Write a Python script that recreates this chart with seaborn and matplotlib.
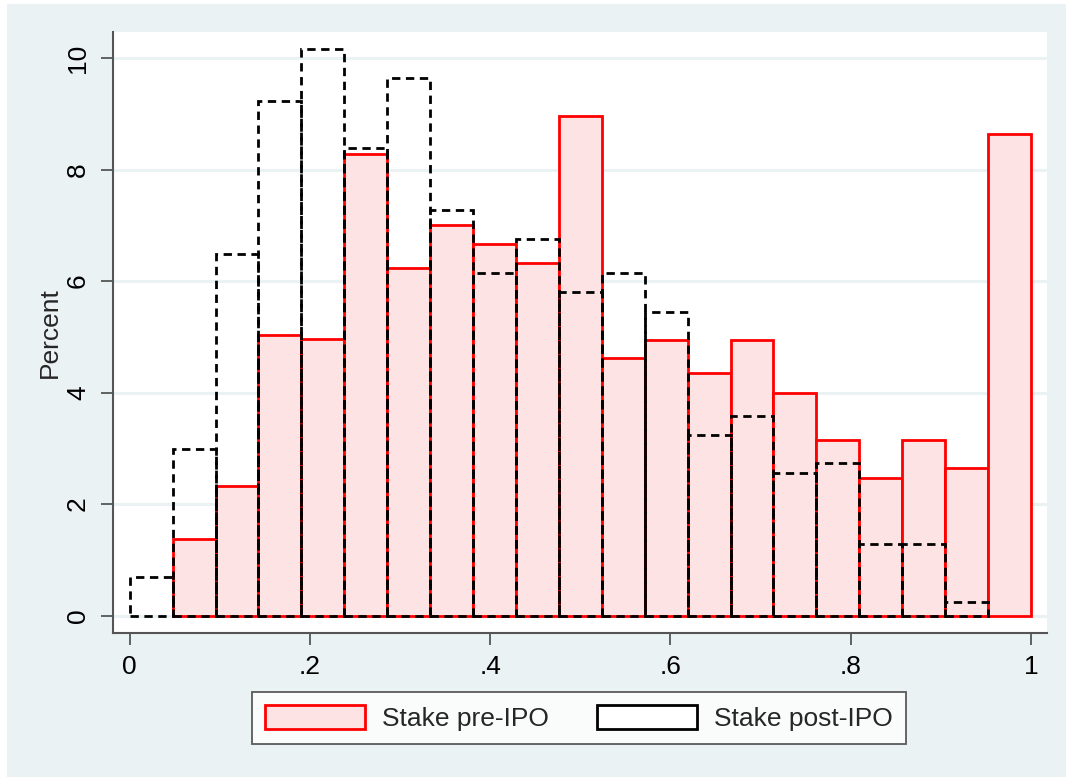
import numpy as np
import pandas as pd
import matplotlib
matplotlib.use("Agg")
import matplotlib.pyplot as plt
from matplotlib.patches import Patch, Rectangle
import seaborn as sns

# percent of firms per bin (21 bins on 0..1)
pre_ipo_pct = [0.0, 1.37, 2.32, 5.03, 4.96, 8.28, 6.24, 7.00, 6.66, 6.32, 8.97,
               4.62, 4.95, 4.35, 4.95, 4.00, 3.15, 2.47, 3.15, 2.65, 8.64]
post_ipo_pct = [0.69, 2.99, 6.48, 9.23, 10.17, 8.38, 9.65, 7.28, 6.14, 6.75, 5.80,
                6.14, 5.45, 3.24, 3.58, 2.56, 2.74, 1.29, 1.29, 0.25, 0.0]
x_ticks = [0, 0.2, 0.4, 0.6, 0.8, 1]
x_ticklabels = ["0", ".2", ".4", ".6", ".8", "1"]
y_ticks = [0, 2, 4, 6, 8, 10]

edges = np.linspace(0, 1, len(pre_ipo_pct) + 1).tolist()
mids = [(a + b) / 2 for a, b in zip(edges[:-1], edges[1:])]
df = pd.DataFrame({"stake": mids, "pre": pre_ipo_pct, "post": post_ipo_pct})

sns.set_theme(style="white")
plt.rcParams["font.family"] = ["Liberation Sans", "DejaVu Sans"]

bg = "#EAF2F3"
axis_col = "#555555"

fig = plt.figure(figsize=(10.66, 7.78), dpi=100, facecolor="white")
fig.add_artist(Rectangle((7 / 1066, 1 / 778), 1 - 7 / 1066, 1 - 5 / 778,
                         transform=fig.transFigure, facecolor=bg,
                         edgecolor="none", zorder=-10))
ax = fig.add_axes([113 / 1066, 1 - 633 / 778, (1047 - 113) / 1066, (633 - 32) / 778])
ax.set_facecolor("white")

# empty bins are not drawn in the original (first bin pre, last bin post)
sns.histplot(data=df[df["pre"] > 0], x="stake", weights="pre", bins=edges[1:], ax=ax,
             color="#FDE3E3", edgecolor="#FF0000", linewidth=2, alpha=1, zorder=2)
sns.histplot(data=df[df["post"] > 0], x="stake", weights="post", bins=edges[:-1], ax=ax,
             fill=False, color="black", linewidth=2, linestyle=(0, (3, 2)), zorder=3)

ax.set_xlim(-0.0185, 1.0178)
ax.set_ylim(-0.314, 10.47)
ax.set_xticks(x_ticks)
ax.set_xticklabels(x_ticklabels)
ax.set_yticks(y_ticks)
ax.set_xlabel("")
ax.set_ylabel("Percent", fontsize=19, labelpad=3)

ax.set_axisbelow(True)
ax.yaxis.grid(True, color=bg, linewidth=2.2)
ax.xaxis.grid(False)

for side in ["top", "right"]:
    ax.spines[side].set_visible(False)
for side in ["left", "bottom"]:
    ax.spines[side].set_color(axis_col)
    ax.spines[side].set_linewidth(1.5)

ax.tick_params(axis="both", which="major", direction="out", length=8.5, width=1.3,
               color=axis_col, labelsize=19, labelcolor="black", bottom=True, left=True)
ax.tick_params(axis="x", pad=7)
ax.tick_params(axis="y", pad=8, labelrotation=90)
for lab in ax.get_yticklabels():
    lab.set_va("center")

handles = [Patch(facecolor="#FDE3E3", edgecolor="#FF0000", linewidth=2),
           Patch(facecolor="white", edgecolor="black", linewidth=2)]
leg = fig.legend(handles, ["Stake pre-IPO", "Stake post-IPO"], ncol=2,
                 loc="center", bbox_to_anchor=(579 / 1066, 60 / 778),
                 fontsize=19, frameon=True, fancybox=False,
                 handlelength=3.8, handleheight=1.0, handletextpad=0.65,
                 columnspacing=1.8, borderpad=0.5)
leg.get_frame().set_edgecolor("#333333")
leg.get_frame().set_linewidth(1.3)
leg.get_frame().set_facecolor("white")

fig.savefig("out.png", dpi=100, facecolor=fig.get_facecolor())
